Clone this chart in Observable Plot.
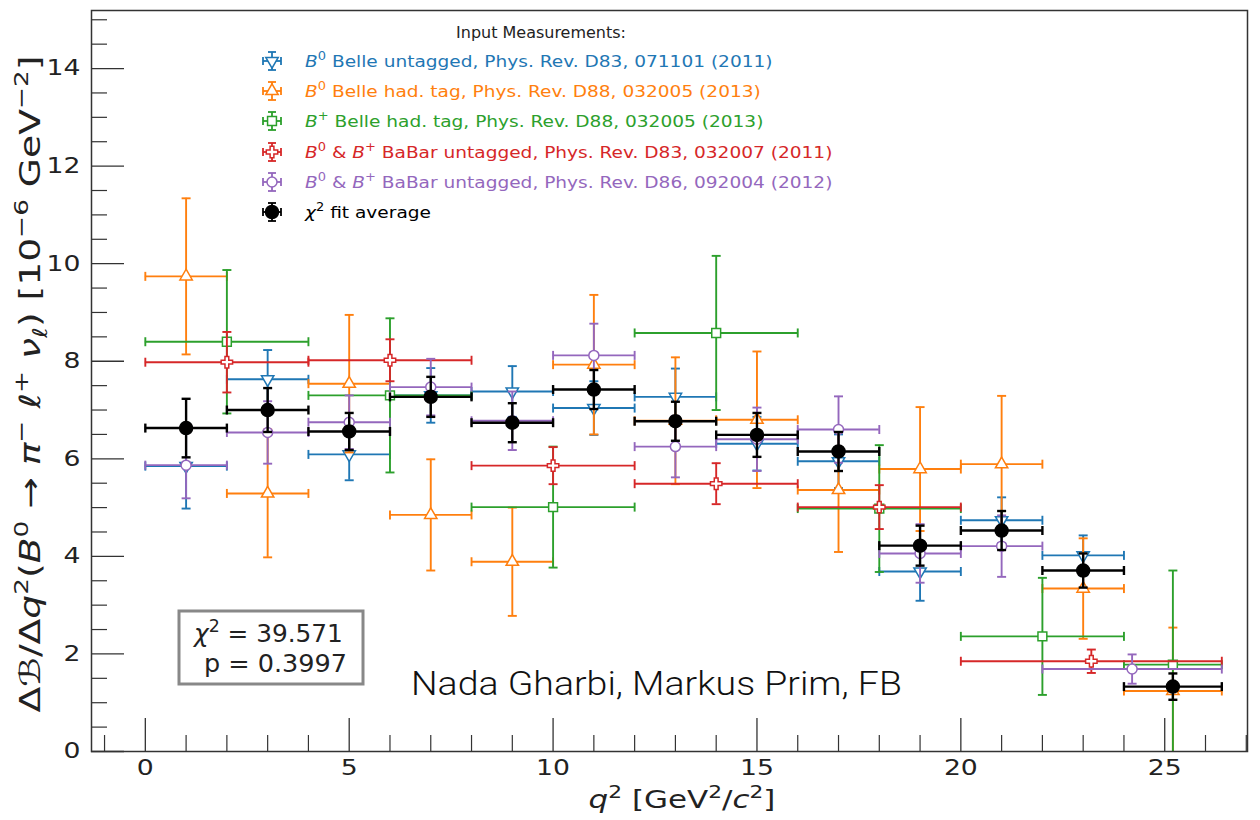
<!DOCTYPE html>
<html>
<head>
<meta charset="utf-8">
<script src="https://cdn.jsdelivr.net/npm/d3@7"></script>
<script src="https://cdn.jsdelivr.net/npm/@observablehq/plot@0.6"></script>
<style>
  body { margin: 0; background: #fff; }
  #chart { width: 1260px; height: 820px; }
</style>
</head>
<body>
<div id="chart"></div>
<script>
// q^2 bin edges [GeV^2/c^2]
const fineLo = [0, 2, 4, 6, 8, 10, 12, 14, 16, 18, 20, 22, 24];
const fineHi = [2, 4, 6, 8, 10, 12, 14, 16, 18, 20, 22, 24, 26.4];

// B0 Belle untagged (2011)
const belleUntagLo  = [0, 2, 4, 6, 8, 10, 12, 14, 16, 18, 20, 22];
const belleUntagHi  = [2, 4, 6, 8, 10, 12, 14, 16, 18, 20, 22, 24];
const belleUntagVal = [5.85, 7.63, 6.09, 7.30, 7.38, 7.04, 7.27, 6.31, 5.95, 3.69, 4.74, 4.02];
const belleUntagErr = [0.87, 0.60, 0.53, 0.56, 0.52, 0.55, 0.58, 0.55, 0.55, 0.60, 0.47, 0.41];

// B0 Belle hadronic tag (2013)
const belleHadB0Val = [9.74, 5.29, 7.54, 4.85, 3.89, 7.93, 6.78, 6.80, 5.36, 5.79, 5.89, 3.34, 1.24];
const belleHadB0Err = [1.60, 1.31, 1.41, 1.14, 1.11, 1.43, 1.30, 1.40, 1.27, 1.27, 1.40, 1.03, 1.30];

// B+ Belle hadronic tag (2013)
const belleHadBpLo  = [0, 4, 8, 12, 16, 20, 24];
const belleHadBpHi  = [4, 8, 12, 16, 20, 24, 26.4];
const belleHadBpVal = [8.40, 7.30, 5.01, 8.58, 4.98, 2.36, 1.78];
const belleHadBpErr = [1.47, 1.58, 1.24, 1.58, 1.30, 1.20, 1.93];

// B0 & B+ BaBar untagged (2011)
const babar11Lo  = [0, 4, 8, 12, 16, 20];
const babar11Hi  = [4, 8, 12, 16, 20, 26.4];
const babar11Val = [7.98, 8.02, 5.86, 5.49, 5.01, 1.85];
const babar11Err = [0.62, 0.43, 0.38, 0.42, 0.45, 0.24];

// B0 & B+ BaBar untagged (2012)
const babar12Lo  = [0, 2, 4, 6, 8, 10, 12, 14, 16, 18, 20, 22];
const babar12Hi  = [2, 4, 6, 8, 10, 12, 14, 16, 18, 20, 22, 26.4];
const babar12Val = [5.87, 6.54, 6.75, 7.47, 6.78, 8.12, 6.25, 6.40, 6.60, 4.06, 4.21, 1.69];
const babar12Err = [0.68, 0.64, 0.55, 0.58, 0.60, 0.65, 0.63, 0.65, 0.68, 0.60, 0.63, 0.30];

// chi^2 fit average
const fitVal = [6.63, 7.00, 6.56, 7.27, 6.74, 7.42, 6.77, 6.49, 6.15, 4.22, 4.53, 3.71, 1.33];
const fitErr = [0.60, 0.45, 0.38, 0.41, 0.40, 0.40, 0.40, 0.45, 0.40, 0.41, 0.40, 0.35, 0.27];

// axis ticks
const xMajor = [0, 5, 10, 15, 20, 25];
const xMinor = [-1, 1, 2, 3, 4, 6, 7, 8, 9, 11, 12, 13, 14, 16, 17, 18, 19, 21, 22, 23, 24, 26, 27];
const yMajor = [0, 2, 4, 6, 8, 10, 12, 14];
const yMinor = [0.5, 1, 1.5, 2.5, 3, 3.5, 4.5, 5, 5.5, 6.5, 7, 7.5, 8.5, 9, 9.5, 10.5, 11, 11.5, 12.5, 13, 13.5, 14.5, 15];

const series = [
  {key: "belleUntag", color: "#1f77b4", lo: belleUntagLo, hi: belleUntagHi, val: belleUntagVal, err: belleUntagErr,
   symbol: "triangle", rotate: 180, r: 4.6, fill: "white",
   label: [{t: "B", it: 1}, {t: "0", sup: 1}, {t: " Belle untagged, Phys. Rev. D83, 071101 (2011)"}]},
  {key: "belleHadB0", color: "#ff7f0e", lo: fineLo, hi: fineHi, val: belleHadB0Val, err: belleHadB0Err,
   symbol: "triangle", rotate: 0, r: 4.6, fill: "white",
   label: [{t: "B", it: 1}, {t: "0", sup: 1}, {t: " Belle had. tag, Phys. Rev. D88, 032005 (2013)"}]},
  {key: "belleHadBp", color: "#2ca02c", lo: belleHadBpLo, hi: belleHadBpHi, val: belleHadBpVal, err: belleHadBpErr,
   symbol: "square", rotate: 0, r: 5, fill: "white",
   label: [{t: "B", it: 1}, {t: "+", sup: 1}, {t: " Belle had. tag, Phys. Rev. D88, 032005 (2013)"}]},
  {key: "babar11", color: "#d62728", lo: babar11Lo, hi: babar11Hi, val: babar11Val, err: babar11Err,
   symbol: "cross", rotate: 0, r: 4.8, fill: "white",
   label: [{t: "B", it: 1}, {t: "0", sup: 1}, {t: " & "}, {t: "B", it: 1}, {t: "+", sup: 1}, {t: " BaBar untagged, Phys. Rev. D83, 032007 (2011)"}]},
  {key: "babar12", color: "#9467bd", lo: babar12Lo, hi: babar12Hi, val: babar12Val, err: babar12Err,
   symbol: "circle", rotate: 0, r: 5, fill: "white",
   label: [{t: "B", it: 1}, {t: "0", sup: 1}, {t: " & "}, {t: "B", it: 1}, {t: "+", sup: 1}, {t: " BaBar untagged, Phys. Rev. D86, 092004 (2012)"}]},
  {key: "fit", color: "#000000", lo: fineLo, hi: fineHi, val: fitVal, err: fitErr,
   symbol: "circle", rotate: 0, r: 6.5, fill: "#000000",
   label: [{t: "χ", it: 1}, {t: "2", sup: 1}, {t: " fit average"}]}
];

// error-bar caps as short line symbols
const capV = {draw(ctx, size) { const h = Math.sqrt(size / Math.PI); ctx.moveTo(0, -h); ctx.lineTo(0, h); }};
const capH = {draw(ctx, size) { const h = Math.sqrt(size / Math.PI); ctx.moveTo(-h, 0); ctx.lineTo(h, 0); }};

const marks = [];
for (const s of series) {
  const rows = s.lo.map((lo, i) => ({lo, hi: s.hi[i], q: (lo + s.hi[i]) / 2, v: s.val[i], lo_v: s.val[i] - s.err[i], hi_v: s.val[i] + s.err[i]}));
  const sw = s.key === "fit" ? 2.4 : 1.9;
  marks.push(
    Plot.ruleY(rows, {y: "v", x1: "lo", x2: "hi", stroke: s.color, strokeWidth: sw, clip: true}),
    Plot.ruleX(rows, {x: "q", y1: "lo_v", y2: "hi_v", stroke: s.color, strokeWidth: sw, clip: true}),
    Plot.dot(rows, {x: "lo", y: "v", symbol: capV, r: 4.5, fill: "none", stroke: s.color, strokeWidth: sw, clip: true}),
    Plot.dot(rows, {x: "hi", y: "v", symbol: capV, r: 4.5, fill: "none", stroke: s.color, strokeWidth: sw, clip: true}),
    Plot.dot(rows, {x: "q", y: "lo_v", symbol: capH, r: 4.5, fill: "none", stroke: s.color, strokeWidth: sw, clip: true}),
    Plot.dot(rows, {x: "q", y: "hi_v", symbol: capH, r: 4.5, fill: "none", stroke: s.color, strokeWidth: sw, clip: true}),
    Plot.dot(rows, {x: "q", y: "v", symbol: s.symbol, rotate: s.rotate, r: s.r, fill: s.fill, stroke: s.color, strokeWidth: 1.5, clip: true})
  );
}

const axisColor = "#333";
const chart = Plot.plot({
  width: 1260,
  height: 820,
  marginLeft: 91,
  marginRight: 13,
  marginTop: 10,
  marginBottom: 69,
  x: {domain: [-1.32, 27.03], label: null},
  y: {domain: [0, 15.19], label: null},
  style: {fontFamily: "DejaVu Sans", fontSize: "21.5px", color: "#222", background: "#fff"},
  marks: [
    ...marks,
    // inward-pointing ticks
    Plot.axisX(xMajor, {tickSize: -33, fill: "none", stroke: axisColor, strokeWidth: 1.3, label: null}),
    Plot.axisX(xMinor, {tickSize: -16, fill: "none", stroke: axisColor, strokeWidth: 1.2, label: null}),
    Plot.axisY(yMajor, {tickSize: -33, fill: "none", stroke: axisColor, strokeWidth: 1.3, label: null}),
    Plot.axisY(yMinor, {tickSize: -16, fill: "none", stroke: axisColor, strokeWidth: 1.2, label: null}),
    // tick labels
    Plot.axisX(xMajor, {tickSize: 0, tickPadding: 8, label: null, fill: "#222"}),
    Plot.axisY(yMajor, {tickSize: 0, tickPadding: 11, label: null, fill: "#222"}),
    Plot.frame({stroke: axisColor, strokeWidth: 1.5})
  ]
});
document.getElementById("chart").appendChild(chart);

const svg = d3.select(chart);

// slightly wide tick-label glyphs
svg.selectAll('g[aria-label="x-axis tick label"] text, g[aria-label="y-axis tick label"] text').each(function () {
  this.setAttribute("transform", (this.getAttribute("transform") || "") + " scale(1.24,1)");
});

// text with italic, superscript and subscript runs
function rich(text, parts, size) {
  let shift = 0;
  for (const p of parts) {
    const target = p.sup ? -0.42 * size : p.sub ? 0.25 * size : 0;
    text.append("tspan")
      .attr("dy", target - shift)
      .attr("font-size", (p.sup || p.sub) ? size * 0.7 : size)
      .attr("font-style", p.it ? "italic" : null)
      .text(p.t);
    shift = target;
  }
}

const ann = svg.append("g").attr("font-family", "DejaVu Sans").attr("text-anchor", "start");

// place a rich text at (x, y), optionally stretched along its baseline to a given length
function label(x, y, parts, size, opts = {}) {
  const t = ann.append("text")
    .attr("text-anchor", opts.anchor || "start")
    .attr("fill", opts.fill || "#222");
  if (opts.family) t.attr("font-family", opts.family);
  if (opts.weight) t.attr("font-weight", opts.weight);
  rich(t, parts, size);
  let s = opts.scale || 1;
  if (opts.width) s = opts.width / t.node().getComputedTextLength();
  t.attr("transform", `translate(${x},${y})${opts.rotate ? ` rotate(${opts.rotate})` : ""} scale(${s},1)`);
  return s;
}

// axis titles
label(682, 808, [{t: "q", it: 1}, {t: "2", sup: 1}, {t: " [GeV"}, {t: "2", sup: 1}, {t: "/"}, {t: "c", it: 1}, {t: "2", sup: 1}, {t: "]"}],
  25, {anchor: "middle", width: 187});

label(40, 384, [{t: "Δ"}, {t: "ℬ", it: 1}, {t: "/Δ"}, {t: "q", it: 1}, {t: "2", sup: 1}, {t: "("}, {t: "B", it: 1}, {t: "0", sup: 1},
   {t: " → "}, {t: "π", it: 1}, {t: "−", sup: 1}, {t: " "}, {t: "ℓ", it: 1}, {t: "+", sup: 1}, {t: " "}, {t: "ν", it: 1},
   {t: "ℓ", sub: 1, it: 1}, {t: ") [10"}, {t: "−6", sup: 1}, {t: " GeV"}, {t: "−2", sup: 1}, {t: "]"}],
  29, {anchor: "middle", rotate: -90, width: 657});

// legend
label(541, 38, [{t: "Input Measurements:"}], 16, {anchor: "middle", width: 170});
const rowY = [61, 91, 121, 152, 182, 212];
let legendScale = null;
series.forEach((s, i) => {
  const y = rowY[i], x = 272, h = 9, c = 4;
  const lg = ann.append("g").attr("stroke", s.color).attr("stroke-width", 1.8).attr("fill", "none");
  lg.append("line").attr("x1", x - h).attr("x2", x + h).attr("y1", y).attr("y2", y);
  lg.append("line").attr("x1", x).attr("x2", x).attr("y1", y - h).attr("y2", y + h);
  lg.append("line").attr("x1", x - h).attr("x2", x - h).attr("y1", y - c).attr("y2", y + c);
  lg.append("line").attr("x1", x + h).attr("x2", x + h).attr("y1", y - c).attr("y2", y + c);
  lg.append("line").attr("x1", x - c).attr("x2", x + c).attr("y1", y - h).attr("y2", y - h);
  lg.append("line").attr("x1", x - c).attr("x2", x + c).attr("y1", y + h).attr("y2", y + h);
  const sym = {triangle: d3.symbolTriangle, square: d3.symbolSquare, cross: d3.symbolCross, circle: d3.symbolCircle}[s.symbol];
  lg.append("path")
    .attr("d", d3.symbol(sym, Math.PI * s.r * s.r)())
    .attr("transform", `translate(${x},${y}) rotate(${s.rotate})`)
    .attr("fill", s.fill).attr("stroke-width", 1.5);
  const opts = {fill: s.color};
  if (legendScale === null) opts.width = 468; else opts.scale = legendScale;
  const sc = label(305, y + 6, s.label, 16.5, opts);
  if (legendScale === null) legendScale = sc;
});

// fit quality box
ann.append("rect").attr("x", 179).attr("y", 611).attr("width", 184).attr("height", 73)
  .attr("fill", "white").attr("stroke", "#888").attr("stroke-width", 3);
label(194, 642, [{t: "χ", it: 1}, {t: "2", sup: 1}, {t: " = 39.571"}], 24, {width: 149});
label(204, 672, [{t: "p = 0.3997"}], 24, {width: 143});

// authors
label(411, 695, [{t: "Nada Gharbi, Markus Prim, FB"}], 34,
  {family: "Roboto, 'Liberation Sans', sans-serif", weight: 300, fill: "#111", width: 491});
</script>
</body>
</html>
